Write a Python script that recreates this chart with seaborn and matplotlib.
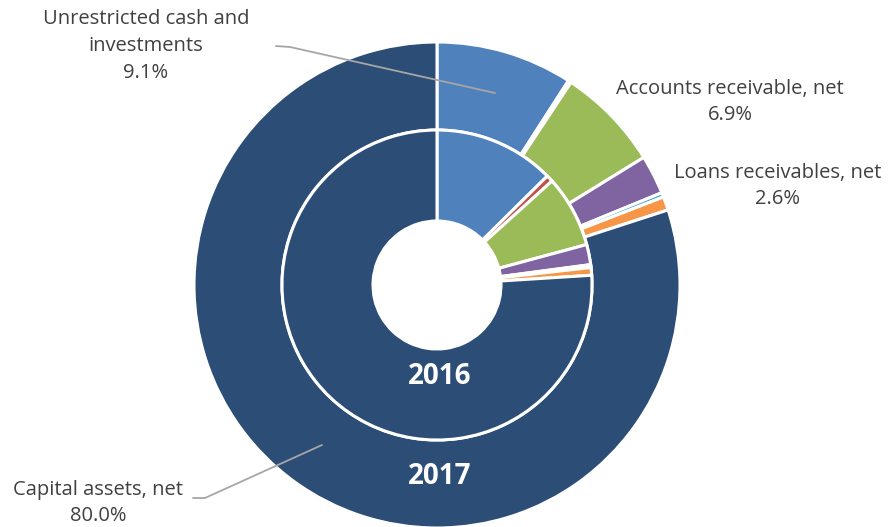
import matplotlib
matplotlib.use("Agg")
import matplotlib.pyplot as plt
import seaborn as sns

# asset categories, in drawing order (clockwise from 12 o'clock)
categories = ["Unrestricted cash and investments", "Restricted cash",
              "Accounts receivable, net", "Loans receivables, net",
              "Inventories", "Other assets", "Capital assets, net"]
share_2017 = [9.1, 0.2, 6.9, 2.6, 0.3, 0.9, 80.0]
share_2016 = [12.6, 0.7, 7.5, 2.1, 0.3, 0.8, 76.0]
colors = ["#4F81BD", "#C0504D", "#9BBB59", "#8064A2", "#4BACC6", "#F79646", "#2C4D75"]

sns.set_theme(style="white")
plt.rcParams["font.family"] = ["Open Sans", "DejaVu Sans"]

fig = plt.figure(figsize=(8.9, 5.27), dpi=100)
ax = fig.add_axes([0, 0, 1, 1])

cx, cy = 437, 527 - 285
edge = dict(edgecolor="white", linewidth=2.2)

ax.pie(share_2017, colors=colors, radius=243, center=(cx, cy), startangle=90,
       counterclock=False, wedgeprops=dict(width=88, **edge), frame=True)
ax.pie(share_2016, colors=colors, radius=155, center=(cx, cy), startangle=90,
       counterclock=False, wedgeprops=dict(width=91, **edge), frame=True)
ax.set_xlim(0, 890)
ax.set_ylim(0, 527)
ax.set_aspect("equal")
ax.axis("off")

ax.text(cx + 3, 527 - 376, "2016", color="white", fontsize=20, fontweight="bold",
        ha="center", va="center")
ax.text(cx + 3, 527 - 476, "2017", color="white", fontsize=20, fontweight="bold",
        ha="center", va="center")

txt = dict(fontsize=14.5, color="#404040", ha="center", va="center", linespacing=1.45)
line = dict(color="#A6A6A6", linewidth=1.3)

ax.text(146, 527 - 46, f"Unrestricted cash and\ninvestments\n{share_2017[0]:.1f}%", **txt)
ax.plot([276, 290, 495], [527 - 46, 527 - 47, 527 - 93], **line)

ax.text(730, 527 - 102, f"Accounts receivable, net\n{share_2017[2]:.1f}%", **txt)
ax.text(778, 527 - 186, f"Loans receivables, net\n{share_2017[3]:.1f}%", **txt)

ax.text(98, 527 - 503, f"Capital assets, net\n{share_2017[6]:.1f}%", **txt)
ax.plot([193, 205, 322], [527 - 498, 527 - 498, 527 - 445], **line)

fig.savefig("out.png", dpi=100)
